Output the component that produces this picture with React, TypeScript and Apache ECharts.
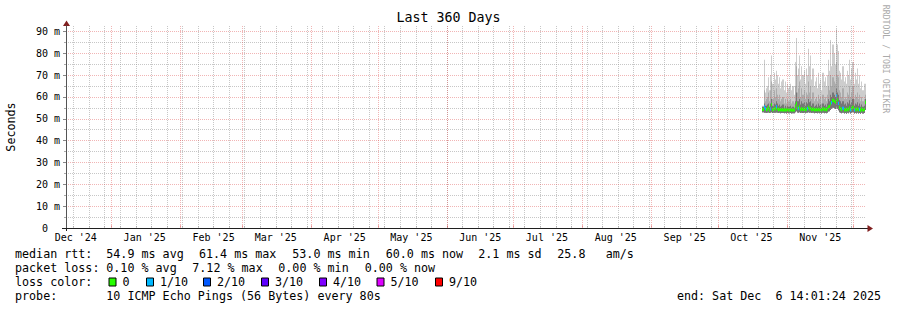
import React, { useEffect, useRef } from 'react';
import * as echarts from 'echarts';

// ---------------- data ----------------
const endTime = '2025-12-06T14:01:24Z';
const spanDays = 360;
const monthStarts = ['2024-12-01', '2025-01-01', '2025-02-01', '2025-03-01', '2025-04-01', '2025-05-01', '2025-06-01', '2025-07-01', '2025-08-01', '2025-09-01', '2025-10-01', '2025-11-01', '2025-12-01'];
const monthLabels = ["Dec '24", "Jan '25", "Feb '25", "Mar '25", "Apr '25", "May '25", "Jun '25", "Jul '25", "Aug '25", "Sep '25", "Oct '25", "Nov '25", "Dec '25"];
const firstWeekLine = '2024-12-15';
const yMajorTicks = [0, 10, 20, 30, 40, 50, 60, 70, 80, 90];
const yMinorTicks = [5, 15, 25, 35, 45, 55, 65, 75, 85];
const yMax = 92.45;

const sampleStart = '2025-10-21T00:00:00Z';
const sampleHours = 12;

// smoke (ms): bottom of smoke, outer top (max), middle band top, inner band top
const smokeLow = [
  53.0, 52.8, 52.7, 52.6, 52.8, 52.9, 52.6, 52.7, 53.0, 52.6,
  52.8, 52.7, 52.9, 52.7, 52.6, 52.7, 52.5, 52.6, 52.6, 52.5,
  52.6, 52.4, 52.6, 52.5, 52.5, 52.6, 52.4, 52.5, 52.5, 53.0,
  53.4, 52.9, 52.8, 53.0, 52.6, 52.8, 52.6, 52.7, 52.5, 52.7,
  52.8, 53.0, 52.8, 52.9, 52.6, 52.7, 52.5, 52.6, 52.6, 52.5,
  52.7, 52.5, 52.6, 52.4, 52.7, 52.5, 52.6, 52.5, 52.8, 53.3,
  53.4, 54.0, 54.6, 55.0, 54.8, 54.5, 55.2, 54.6, 53.9, 53.0,
  52.7, 52.5, 52.8, 52.4, 52.6, 52.3, 52.7, 52.5, 53.0, 52.4,
  52.6, 53.0, 52.4, 52.6, 52.4, 52.7, 52.4, 52.6, 52.3, 52.7,
  52.4, 52.6, 54.0, 55.0,
];
const smokeMax = [
  56, 77, 62, 64, 65, 69, 63, 70, 79, 66,
  71, 68, 72, 70, 66, 69, 64, 67, 68, 63,
  67, 62, 66, 64, 65, 66, 63, 65, 61, 76,
  87, 70, 73, 79, 68, 74, 70, 72, 66, 73,
  70, 82, 74, 79, 68, 73, 65, 67, 69, 64,
  71, 66, 68, 63, 71, 67, 69, 65, 70, 77,
  72, 86, 74, 84, 80, 75, 91, 84, 81, 72,
  71, 68, 74, 67, 69, 66, 72, 70, 77, 68,
  73, 76, 66, 71, 68, 73, 66, 70, 64, 67,
  63, 66, 66, 67,
];
const smokeMid = [
  55, 63, 58, 59, 60, 62, 58, 63, 67, 59,
  63, 60, 64, 61, 59, 61, 58, 59, 60, 57,
  59, 57, 59, 58, 58, 59, 57, 58, 57, 65,
  74, 62, 64, 67, 60, 64, 61, 63, 59, 62,
  61, 67, 62, 65, 59, 62, 58, 59, 60, 58,
  61, 59, 60, 57, 61, 59, 60, 58, 61, 65,
  63, 70, 65, 69, 67, 66, 76, 70, 69, 63,
  62, 60, 64, 59, 60, 59, 62, 61, 65, 60,
  62, 65, 59, 61, 60, 62, 59, 61, 58, 60,
  58, 59, 61, 64,
];
const smokeInner = [
  55.5, 57, 56, 56, 56.5, 57, 55.5, 57, 59, 56,
  57, 56.5, 58, 57, 56, 56.5, 55.5, 56, 56.5, 55,
  56, 55, 56, 55.5, 55.5, 56, 55, 55.5, 55, 58,
  62, 58, 58, 59, 56.5, 58, 57, 57.5, 56, 57.5,
  57, 59, 57.5, 58, 56, 57, 55.5, 56, 56.5, 55.5,
  57, 56, 56.5, 55, 57, 56, 56.5, 55.5, 57, 59,
  58, 61, 60, 62, 61, 60, 64, 62, 61, 58.5,
  58, 57, 58, 56.5, 57, 56, 57.5, 57, 58.5, 56.5,
  57.5, 59, 56, 57, 56.5, 57.5, 56, 57, 55.5, 56.5,
  55.5, 56, 59, 62,
];
const medianRtt = [
  54.3, 55.5, 54.6, 54.2, 54.4, 55.2, 54.0, 54.5, 56.5, 54.2,
  54.8, 54.4, 55.6, 54.5, 54.1, 54.3, 54.0, 54.2, 54.1, 54.0,
  54.2, 53.9, 54.3, 54.0, 54.1, 54.2, 53.9, 54.0, 54.1, 55.8,
  57.0, 55.0, 54.6, 55.4, 54.2, 54.6, 54.3, 54.5, 54.0, 54.4,
  54.6, 55.3, 54.5, 54.8, 54.2, 54.4, 54.0, 54.2, 54.3, 54.0,
  54.4, 54.1, 54.3, 54.0, 54.5, 54.2, 54.4, 54.1, 54.6, 55.5,
  55.6, 56.8, 57.4, 58.4, 58.0, 57.6, 60.5, 58.6, 57.0, 55.2,
  54.6, 54.2, 54.8, 54.0, 54.3, 53.9, 54.5, 54.2, 55.0, 54.1,
  54.5, 55.2, 54.0, 54.4, 54.1, 54.6, 54.0, 54.3, 53.8, 54.5,
  54.0, 54.3, 57.5, 60.0,
];
// lost pings (of 10) per sample
const lossCount = [
  0, 1, 1, 0, 0, 0, 0, 1, 0, 0,
  0, 0, 1, 0, 0, 0, 0, 0, 0, 0,
  0, 0, 0, 0, 0, 0, 0, 0, 0, 0,
  0, 0, 1, 0, 0, 0, 0, 0, 0, 0,
  1, 0, 0, 0, 0, 0, 0, 0, 0, 0,
  0, 0, 0, 0, 0, 0, 0, 0, 0, 0,
  0, 0, 1, 0, 0, 0, 1, 0, 1, 0,
  0, 0, 1, 0, 0, 0, 0, 0, 0, 1,
  0, 0, 1, 0, 0, 0, 0, 1, 0, 0,
  0, 0, 0, 0,
];

const lossLegendLabels = ['0', '1/10', '2/10', '3/10', '4/10', '5/10', '9/10'];
const lossColors = ['#26ff00', '#00b8ff', '#0059ff', '#5e00ff', '#7e00ff', '#dd00ff', '#ff0000'];

const titleText = 'Last 360 Days';
const yAxisTitle = 'Seconds';
const medianHead = 'median rtt:';
const medianStats = ['54.9 ms avg', '61.4 ms max', '53.0 ms min', '60.0 ms now', '2.1 ms sd', '25.8', 'am/s'];
const lossHead = 'packet loss:';
const lossStats = ['0.10 % avg', '7.12 % max', '0.00 % min', '0.00 % now'];
const lossColorHead = 'loss color:';
const probeHead = 'probe:';
const probeText = '10 ICMP Echo Pings (56 Bytes) every 80s';
const endText = 'end: Sat Dec  6 14:01:24 2025';
const watermark = 'RRDTOOL / TOBI OETIKER';

// ---------------- layout / style ----------------
const W = 897;
const H = 310;
const GL = 66;
const GT = 26;
const GW = 800;
const GH = 202;
const MONO = '"DejaVu Sans Mono", monospace';
const LEG_FS = 11.7;
const medianX = [15, 106.3, 199, 292.3, 385.7, 478.3, 557.3, 605.7];
const lossX = [15, 106.3, 192.3, 278.3, 364.7];
const boxX = [108.5, 146, 203, 261, 319, 376.5, 435];
const rowY = [254.3, 268.3, 282.3, 296.3];
const smokeShades = ['#cdcdcd', '#acacac', '#767676'];
const GRID_GRAY = 'rgba(143,143,143,0.5)';
const GRID_RED = 'rgba(222,79,79,0.42)';
const AXIS_COL = '#1f1f1f';
const ARROW_COL = '#801f1f';

const DAY = 86400000;
const nb = (s: string) => s.replace(/ /g, '\u00a0');

export default function App() {
  const ref = useRef<HTMLDivElement>(null);

  useEffect(() => {
    if (!ref.current) return;
    const chart = echarts.init(ref.current, undefined, { renderer: 'svg' });

    const end = Date.parse(endTime);
    const start = end - spanDays * DAY;
    const monthTs = monthStarts.map((d) => Date.parse(d + 'T00:00:00Z'));
    const monthLines = monthTs.filter((t) => t > start && t < end);
    const labelTs = monthTs.map((t) => t + 15 * DAY);
    const labelVals = labelTs.filter((t) => t > start && t < end);
    const weekLines: number[] = [];
    for (let t = Date.parse(firstWeekLine + 'T00:00:00Z'); t < end; t += 7 * DAY) weekLines.push(t);

    const t0 = Date.parse(sampleStart);
    const STEP = sampleHours * 3600000;
    const smokeData = smokeLow.map((lo, i) => [t0 + i * STEP, lo, smokeMax[i], smokeMid[i], smokeInner[i]]);
    const medData = medianRtt.map((m, i) => [t0 + i * STEP, m, lossCount[i]]);

    const texts: any[] = [];
    const t = (x: number, y: number, s: string, extra: any = {}) =>
      texts.push({
        type: 'text', x, y, silent: true,
        style: { text: nb(s), fontFamily: MONO, fontSize: LEG_FS, fill: '#000', align: 'left', verticalAlign: 'middle', ...extra },
      });
    t(medianX[0], rowY[0], medianHead);
    medianStats.forEach((s, i) => t(medianX[i + 1], rowY[0], s));
    t(lossX[0], rowY[1], lossHead);
    lossStats.forEach((s, i) => t(lossX[i + 1], rowY[1], s));
    t(medianX[0], rowY[2], lossColorHead);
    lossLegendLabels.forEach((s, i) => {
      texts.push({
        type: 'rect', silent: true,
        shape: { x: boxX[i] + 0.5, y: rowY[2] - 4.3, width: 7, height: 8 },
        style: { fill: lossColors[i], stroke: '#000', lineWidth: 1 },
      });
      t(boxX[i] + 14, rowY[2], s);
    });
    t(medianX[0], rowY[3], probeHead);
    t(medianX[1], rowY[3], probeText);
    t(881, rowY[3], endText, { align: 'right' });
    texts.push({
      type: 'text', x: 11, y: GT + GH / 2, rotation: Math.PI / 2, silent: true,
      style: { text: yAxisTitle, fontFamily: MONO, fontSize: LEG_FS, fill: '#000', align: 'center', verticalAlign: 'middle' },
    });
    texts.push({
      type: 'text', x: 886, y: 59, rotation: -Math.PI / 2, silent: true,
      style: { text: nb(watermark), fontFamily: MONO, fontSize: 8.2, fill: '#aaaaaa', align: 'center', verticalAlign: 'middle' },
    });
    texts.push({ type: 'line', silent: true, shape: { x1: GL - 4, y1: GT + GH + 0.5, x2: GL, y2: GT + GH + 0.5 }, style: { stroke: AXIS_COL, lineWidth: 1 } });
    texts.push({ type: 'line', silent: true, shape: { x1: GL + GW, y1: GT + GH + 0.5, x2: GL + GW + 2, y2: GT + GH + 0.5 }, style: { stroke: AXIS_COL, lineWidth: 1 } });
    texts.push({ type: 'line', silent: true, shape: { x1: GL + 0.5, y1: GT + GH, x2: GL + 0.5, y2: GT + GH + 3 }, style: { stroke: AXIS_COL, lineWidth: 1 } });
    texts.push({ type: 'polygon', silent: true, shape: { points: [[GL - 3, GT], [GL + 4, GT], [GL + 0.5, GT - 5.5]] }, style: { fill: ARROW_COL } });
    texts.push({ type: 'polygon', silent: true, shape: { points: [[GL + GW + 1.5, GT + GH - 3], [GL + GW + 1.5, GT + GH + 4], [GL + GW + 7, GT + GH + 0.5]] }, style: { fill: ARROW_COL } });

    const option: any = {
      animation: false,
      backgroundColor: '#ffffff',
      title: {
        text: titleText, left: 'center', top: 11, padding: 0,
        textStyle: { fontFamily: MONO, fontSize: 13.3, fontWeight: 'normal', color: '#000' },
      },
      grid: { left: GL, top: GT, width: GW, height: GH, containLabel: false, outerBoundsMode: 'none' },
      xAxis: [
        {
          type: 'value', min: start, max: end, position: 'bottom', z: 5,
          axisLine: { show: true, lineStyle: { color: AXIS_COL, width: 1 } },
          axisTick: { show: true, inside: true, length: 3, customValues: monthLines, lineStyle: { color: GRID_RED } },
          axisLabel: {
            show: true, customValues: labelVals, margin: 4, fontFamily: MONO, fontSize: 10, color: '#000',
            formatter: (v: number) => {
              const idx = labelTs.findIndex((x) => Math.abs(x - v) < 60000);
              return idx >= 0 ? monthLabels[idx] : '';
            },
          },
          splitLine: { show: true, lineStyle: { color: GRID_RED, width: 1, type: [1, 1] } },
        },
        {
          type: 'value', min: start, max: end, position: 'bottom', z: 4,
          axisLine: { show: false },
          axisTick: { show: true, inside: true, length: 2, customValues: weekLines, lineStyle: { color: GRID_GRAY } },
          axisLabel: { show: false },
          splitLine: { show: true, lineStyle: { color: GRID_GRAY, width: 1, type: [1, 1] } },
        },
      ],
      yAxis: [
        {
          type: 'value', min: 0, max: yMax, position: 'left', z: 5,
          axisLine: { show: true, lineStyle: { color: '#555555', width: 1 } },
          axisTick: { show: true, length: 3, customValues: yMajorTicks.filter((v) => v > 0), lineStyle: { color: '#888888' } },
          axisLabel: {
            show: true, customValues: yMajorTicks, margin: 6, fontFamily: MONO, fontSize: 10, color: '#000',
            formatter: (v: number) => (v === 0 ? '0\u00a0\u00a0' : `${v}\u00a0m`),
          },
          splitLine: { show: true, lineStyle: { color: GRID_RED, width: 1, type: [1, 1] } },
        },
        {
          type: 'value', min: 0, max: yMax, position: 'left', z: 4,
          axisLine: { show: false },
          axisTick: { show: true, length: 2, customValues: yMinorTicks, lineStyle: { color: '#aaaaaa' } },
          axisLabel: { show: false },
          splitLine: { show: true, lineStyle: { color: GRID_GRAY, width: 1, type: [1, 1] } },
        },
      ],
      series: [
        {
          type: 'custom', name: 'smoke', xAxisIndex: 0, yAxisIndex: 0, z: 1, clip: true,
          encode: { x: 0, y: [1, 2, 3, 4] },
          data: smokeData,
          renderItem: (params: any, api: any) => {
            const tt = api.value(0);
            const xa = Math.round(api.coord([tt, 0])[0]);
            const xb = Math.round(api.coord([tt + STEP, 0])[0]);
            const yLo = api.coord([tt, api.value(1)])[1];
            const children = [2, 3, 4].map((dim, k) => {
              const yT = api.coord([tt, api.value(dim)])[1];
              return {
                type: 'rect',
                shape: { x: xa, y: yT, width: Math.max(1, xb - xa), height: yLo - yT },
                style: { fill: smokeShades[k] },
              };
            });
            return { type: 'group', children };
          },
        },
        {
          type: 'custom', name: 'median rtt', xAxisIndex: 0, yAxisIndex: 0, z: 2, clip: true,
          encode: { x: 0, y: 1 },
          data: medData,
          renderItem: (params: any, api: any) => {
            const tt = api.value(0);
            const xa = Math.round(api.coord([tt, 0])[0]);
            const xb = Math.round(api.coord([tt + STEP, 0])[0]);
            const ym = api.coord([tt, api.value(1)])[1];
            const loss = api.value(2);
            return {
              type: 'rect',
              shape: { x: xa, y: ym - 1.6, width: Math.max(1, xb - xa), height: 3.2 },
              style: { fill: lossColors[Math.min(loss, lossColors.length - 1)] },
            };
          },
        },
      ],
      graphic: { elements: texts },
    };

    chart.setOption(option);
    return () => chart.dispose();
  }, []);

  return <div ref={ref} style={{ position: 'absolute', left: 0, top: 0, width: W, height: H, background: '#fff' }} />;
}
